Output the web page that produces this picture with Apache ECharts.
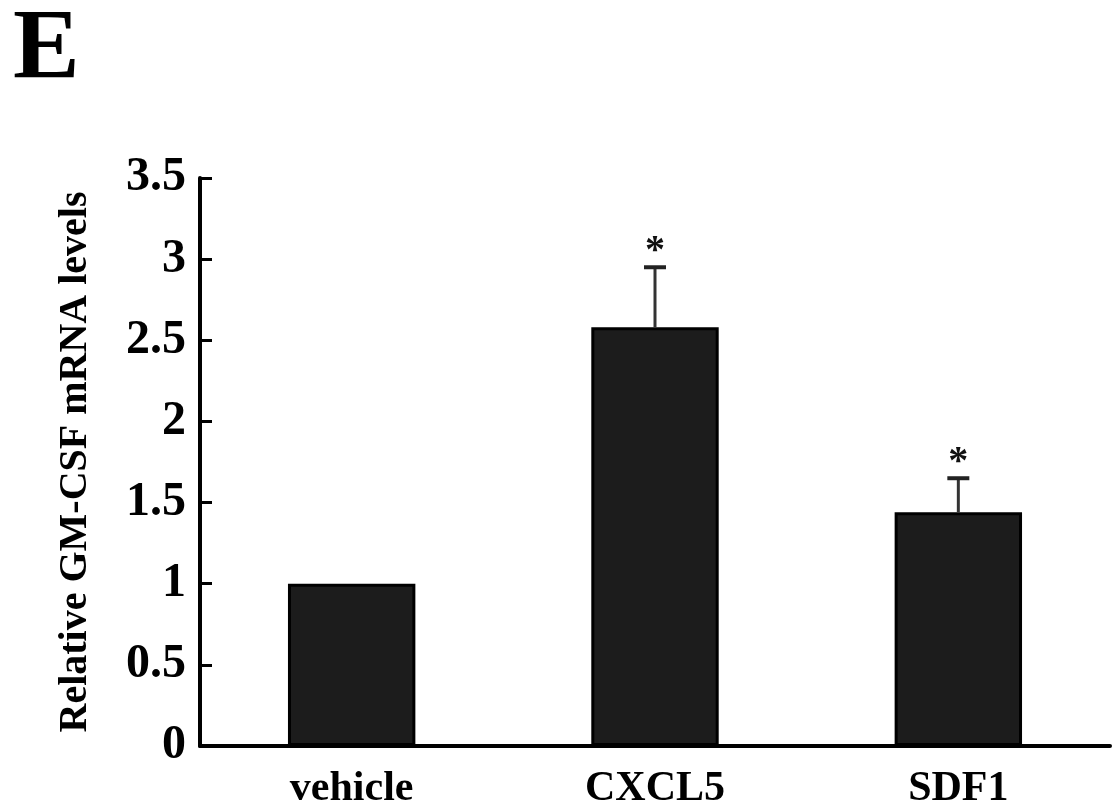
<!DOCTYPE html>
<html>
<head>
<meta charset="utf-8">
<script src="https://cdn.jsdelivr.net/npm/echarts@6/dist/echarts.min.js"></script>
<style>
html,body{margin:0;padding:0;background:#fff;}
#c{width:1116px;height:812px;}
</style>
</head>
<body>
<div id="c"></div>
<script>
const categories = ['vehicle', 'CXCL5', 'SDF1'];
const means = [1.0, 2.58, 1.44];
const errUpper = [null, 2.95, 1.65];
const marks = ['', '*', '*'];
const yTicks = { min: 0, max: 3.5, interval: 0.5 };
const panelLabel = 'E';
const yTitle = 'Relative GM-CSF mRNA levels';

const serif = '"Liberation Serif", "DejaVu Serif", serif';
const chart = echarts.init(document.getElementById('c'));

const errData = categories.map((c, i) => [i, means[i], errUpper[i], marks[i]]);

chart.setOption({
  backgroundColor: '#ffffff',
  animation: false,
  title: {
    text: panelLabel,
    left: 8, top: -4,
    textStyle: { fontFamily: serif, fontWeight: 'bold', fontSize: 100, color: '#000' }
  },
  grid: { left: 200, right: 6, top: 178, bottom: 66, containLabel: false },
  xAxis: {
    type: 'category',
    data: categories,
    boundaryGap: true,
    axisLine: { lineStyle: { color: '#000', width: 4 } },
    axisTick: { inside: true, length: 12, lineStyle: { color: '#000', width: 3 }, alignWithLabel: false },
    axisLabel: { fontFamily: serif, fontWeight: 'bold', fontSize: 42, color: '#000', margin: 22 }
  },
  yAxis: {
    type: 'value',
    min: yTicks.min, max: yTicks.max, interval: yTicks.interval,
    name: yTitle,
    nameLocation: 'middle',
    nameGap: 104,
    nameRotate: 90,
    nameTextStyle: { fontFamily: serif, fontWeight: 'bold', fontSize: 40, color: '#000' },
    splitLine: { show: false },
    axisLine: { show: true, lineStyle: { color: '#000', width: 4 } },
    axisTick: { show: true, inside: true, length: 12, lineStyle: { color: '#000', width: 3 } },
    axisLabel: { fontFamily: serif, fontWeight: 'bold', fontSize: 48, color: '#000', margin: 14, padding: [8, 0, 0, 0] }
  },
  series: [
    {
      type: 'bar',
      data: means,
      barWidth: '42%',
      itemStyle: { color: '#1c1c1c', borderColor: '#000', borderWidth: 3 }
    },
    {
      type: 'custom',
      data: errData,
      z: 5,
      renderItem: function (params, api) {
        const up = api.value(2);
        if (up === null || up === undefined || isNaN(up)) return null;
        const x = api.value(0);
        const top = api.coord([x, up]);
        const base = api.coord([x, api.value(1)]);
        const half = 11;
        const children = [
          { type: 'line', shape: { x1: top[0], y1: base[1], x2: top[0], y2: top[1] }, style: { stroke: '#333', lineWidth: 3 } },
          { type: 'line', shape: { x1: top[0] - half, y1: top[1], x2: top[0] + half, y2: top[1] }, style: { stroke: '#222', lineWidth: 4 } },
          { type: 'text', style: { text: api.value(3), x: top[0], y: top[1] - 16, textAlign: 'center', textVerticalAlign: 'middle', fontFamily: serif, fontWeight: 'bold', fontSize: 40, fill: '#111' } }
        ];
        return { type: 'group', children: children };
      }
    }
  ]
});
</script>
</body>
</html>
